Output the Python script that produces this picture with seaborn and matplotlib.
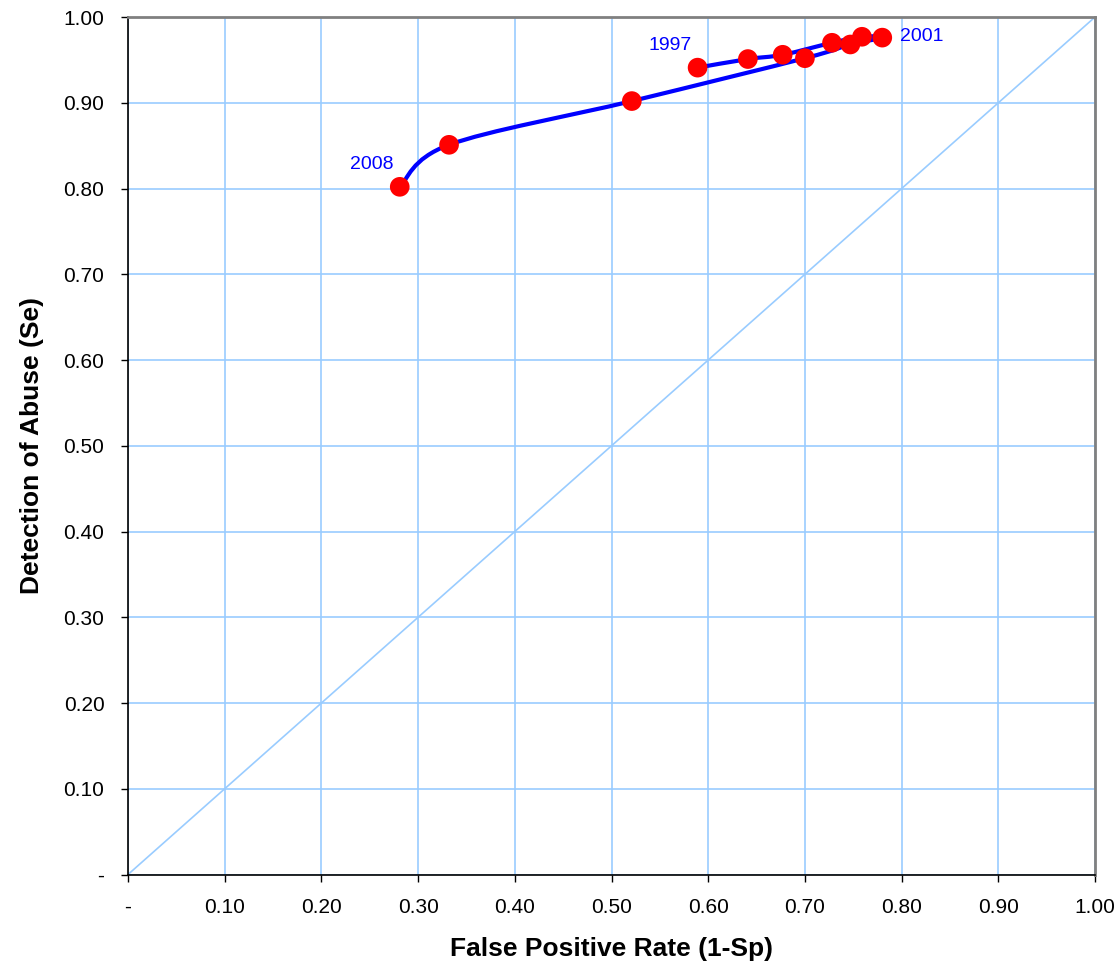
import numpy as np
import seaborn as sns
import matplotlib
matplotlib.use("Agg")
import matplotlib.pyplot as plt
from matplotlib.path import Path
from matplotlib.patches import PathPatch
from matplotlib.ticker import FuncFormatter

# ROC points by year (path order 1997 -> 2008)
fpr = [0.589, 0.641, 0.677, 0.728, 0.759, 0.780, 0.747, 0.700, 0.521, 0.332, 0.281]
sens = [0.941, 0.951, 0.956, 0.970, 0.977, 0.976, 0.968, 0.952, 0.902, 0.851, 0.802]
year_labels = {0: "1997", 5: "2001", 10: "2008"}
ticks = [0.0, 0.1, 0.2, 0.3, 0.4, 0.5, 0.6, 0.7, 0.8, 0.9, 1.0]

sns.set_theme(style="white")
plt.rcParams['font.family'] = ['Liberation Sans', 'DejaVu Sans']
plt.rcParams['text.color'] = 'black'
plt.rcParams['axes.labelcolor'] = 'black'

fig = plt.figure(figsize=(11.2, 9.63), dpi=100)
ax = fig.add_axes([0.1143, 0.0919, 0.8634, 0.8904])

# chance diagonal
sns.lineplot(x=[0, 1], y=[0, 1], color="#99CCFF", linewidth=1.2, ax=ax, zorder=2)

# smoothed line through points (Excel style smoothing)
pts = np.column_stack([fpr, sens])
verts = [tuple(pts[0])]
codes = [Path.MOVETO]
n = len(pts)
for i in range(n - 1):
    p0 = pts[max(i - 1, 0)]
    p1 = pts[i]
    p2 = pts[i + 1]
    p3 = pts[min(i + 2, n - 1)]
    c1 = p1 + (p2 - p0) / 6.0
    c2 = p2 - (p3 - p1) / 6.0
    verts += [tuple(c1), tuple(c2), tuple(p2)]
    codes += [Path.CURVE4] * 3
ax.add_patch(PathPatch(Path(verts, codes), facecolor="none", edgecolor="#0000FF",
                       linewidth=3.0, zorder=3))

sns.scatterplot(x=fpr, y=sens, color="#FF0000", s=200, edgecolor="none", ax=ax, zorder=4)

for i, lab in year_labels.items():
    if lab == "2001":
        ax.annotate(lab, (fpr[i], sens[i]), xytext=(13, 1), textcoords="offset points",
                    ha="left", va="center", color="#0000FF", fontsize=14)
    else:
        ax.annotate(lab, (fpr[i], sens[i]), xytext=(-20, 16), textcoords="offset points",
                    ha="center", va="center", color="#0000FF", fontsize=14)

fmt = FuncFormatter(lambda v, p: "-" if abs(v) < 1e-9 else f"{v:.2f}")
ax.set_xlim(0, 1)
ax.set_ylim(0, 1)
ax.set_xticks(ticks)
ax.set_yticks(ticks)
ax.xaxis.set_major_formatter(fmt)
ax.yaxis.set_major_formatter(fmt)
ax.grid(True, color="#99CCFF", linewidth=1.2)
ax.set_axisbelow(True)
ax.tick_params(axis="both", direction="out", length=5, width=1, color="black",
               labelsize=15, labelcolor="black", bottom=True, left=True)
ax.tick_params(axis="x", pad=12)
ax.tick_params(axis="y", pad=12)

for side in ["left", "bottom"]:
    ax.spines[side].set_color("black")
    ax.spines[side].set_linewidth(1.2)
for side in ["top", "right"]:
    ax.spines[side].set_color("#808080")
    ax.spines[side].set_linewidth(2)

ax.set_xlabel("False Positive Rate (1-Sp)", fontsize=19, fontweight="bold", labelpad=14)
ax.set_ylabel("Detection of Abuse (Se)", fontsize=19, fontweight="bold", labelpad=14)

fig.savefig("out.png", dpi=100)
